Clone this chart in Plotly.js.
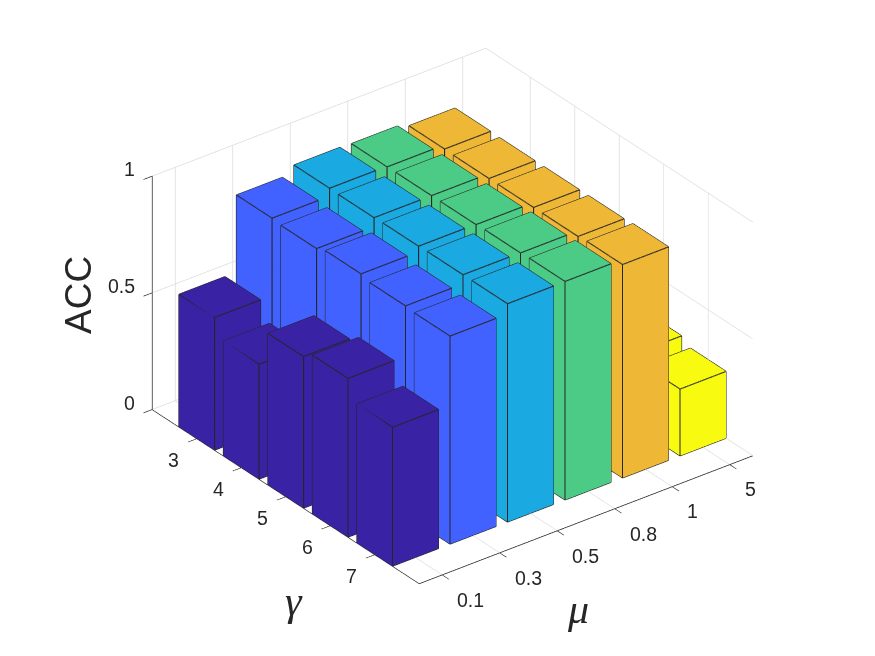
<!DOCTYPE html>
<html><head><meta charset="utf-8">
<script src="https://cdn.plot.ly/plotly-3.0.1.min.js"></script>
<style>html,body{margin:0;padding:0;background:#fff}#g{width:875px;height:656px}</style>
</head><body><div id="g"></div>
<script>
const muLabels = ['0.1','0.3','0.5','0.8','1','5'];
const gammaLabels = [3,4,5,6,7];
const zTicks = [0,0.5,1];
// ACC, one list per mu, ordered by gamma 3..7
const acc01 = [0.568,0.492,0.649,0.680,0.595];
const acc03 = [0.899,0.893,0.909,0.896,0.891];
const acc05 = [0.933,0.931,0.933,0.935,0.935];
const acc08 = [0.930,0.931,0.931,0.934,0.936];
const acc1  = [0.912,0.910,0.910,0.910,0.914];
const acc5  = [0.300,0.300,0.300,0.314,0.286];
const groups = [acc01,acc03,acc05,acc08,acc1,acc5];
const barCol = ['#3a22a5','#4262ff','#1aa9e0','#4bcb85','#eeb735','#f8fb10'];
const hw = 0.4;
const traces = [];
const ex=[],ey=[],ez=[];
groups.forEach((vals,i)=>{
  const m=i+1, X=[],Y=[],Z=[],I=[],J=[],K=[];
  vals.forEach((v,j)=>{
    const g=gammaLabels[j], b=X.length;
    const xs=[m-hw,m+hw,m+hw,m-hw], ys=[g-hw,g-hw,g+hw,g+hw];
    for(let k=0;k<4;k++){X.push(xs[k]);Y.push(ys[k]);Z.push(0);}
    for(let k=0;k<4;k++){X.push(xs[k]);Y.push(ys[k]);Z.push(v);}
    const tri=(a,c,d)=>{I.push(b+a);J.push(b+c);K.push(b+d);};
    tri(4,5,6);tri(4,6,7);tri(5,6,7);tri(5,7,4);
    [[0,1],[1,2],[2,3],[3,0]].forEach(([p,q])=>{
      tri(p,q,q+4);tri(p,q+4,p+4);tri(p,q,p+4);tri(q,q+4,p+4);
    });
    const seg=(a,c)=>{ex.push(X[b+a],X[b+c],null);ey.push(Y[b+a],Y[b+c],null);ez.push(Z[b+a],Z[b+c],null);};
    [[0,1],[1,2],[2,3],[3,0],[4,5],[5,6],[6,7],[7,4],[0,4],[1,5],[2,6],[3,7]].forEach(s=>seg(s[0],s[1]));
  });
  traces.push({type:'mesh3d',x:X,y:Y,z:Z,i:I,j:J,k:K,color:barCol[i],flatshading:true,showscale:false,hoverinfo:'skip',
    lighting:{ambient:1,diffuse:0,specular:0,fresnel:0,roughness:1}});
});
traces.push({type:'scatter3d',mode:'lines',x:ex,y:ey,z:ez,line:{color:'#262626',width:2.2},hoverinfo:'skip',showlegend:false,connectgaps:false});

const ax = (range,tv)=>({range:range,tickvals:tv,ticktext:tv.map(()=>''),showticklabels:false,title:{text:''},
  showgrid:true,gridcolor:'#dcdcdc',gridwidth:1.6,showbackground:false,showline:true,linecolor:'#262626',linewidth:1.6,
  ticks:'outside',ticklen:11,tickwidth:1.5,tickcolor:'#262626',zeroline:false,showspikes:false});
const tf={family:'Liberation Sans, Arial, sans-serif',size:19.5,color:'#262626'};
const anns=[];
muLabels.forEach((t,i)=>anns.push({x:i+1,y:8,z:0,text:t,showarrow:false,font:tf,xanchor:'left',yanchor:'middle',xshift:13,yshift:-25}));
gammaLabels.forEach(g=>anns.push({x:0.6,y:g,z:0,text:String(g),showarrow:false,font:tf,xanchor:'center',yanchor:'middle',xshift:-23,yshift:-21}));
zTicks.forEach(z=>anns.push({x:0.6,y:2,z:z,text:String(z),showarrow:false,font:tf,xanchor:'right',yanchor:'middle',xshift:-15,yshift:7}));

const cx=-0.0363, cy=0.0278, cz=-0.0423;
const labelFont={family:'Liberation Sans, Arial, sans-serif',size:37,color:'#262626'};
const mathFont={family:'Liberation Serif, serif',size:42,color:'#262626'};
const layout={width:875,height:656,margin:{l:0,r:0,t:0,b:0},paper_bgcolor:'#fff',showlegend:false,
 scene:{domain:{x:[0,1],y:[0,1]},aspectmode:'manual',aspectratio:{x:1.2815,y:1.337,z:0.8226},
  xaxis:ax([0.6,6.4],[1,2,3,4,5,6]),yaxis:ax([8,2],gammaLabels),zaxis:ax([-0.001,1],zTicks),
  camera:{projection:{type:'orthographic'},up:{x:0,y:0,z:1},center:{x:cx,y:cy,z:cz},
    eye:{x:cx-0.527*2,y:cy-0.687*2,z:cz+0.5*2}},annotations:anns},
 annotations:[
  {xref:'paper',yref:'paper',x:78/875,y:1-295/656,xanchor:'center',yanchor:'middle',text:'ACC',textangle:-90,showarrow:false,font:labelFont},
  {xref:'paper',yref:'paper',x:294/875,y:1-601/656,xanchor:'center',yanchor:'middle',text:'<i>γ</i>',showarrow:false,font:mathFont},
  {xref:'paper',yref:'paper',x:578/875,y:1-609/656,xanchor:'center',yanchor:'middle',text:'<i>μ</i>',showarrow:false,font:mathFont}
 ]};
Plotly.newPlot('g',traces,layout,{displayModeBar:false});
</script></body></html>
